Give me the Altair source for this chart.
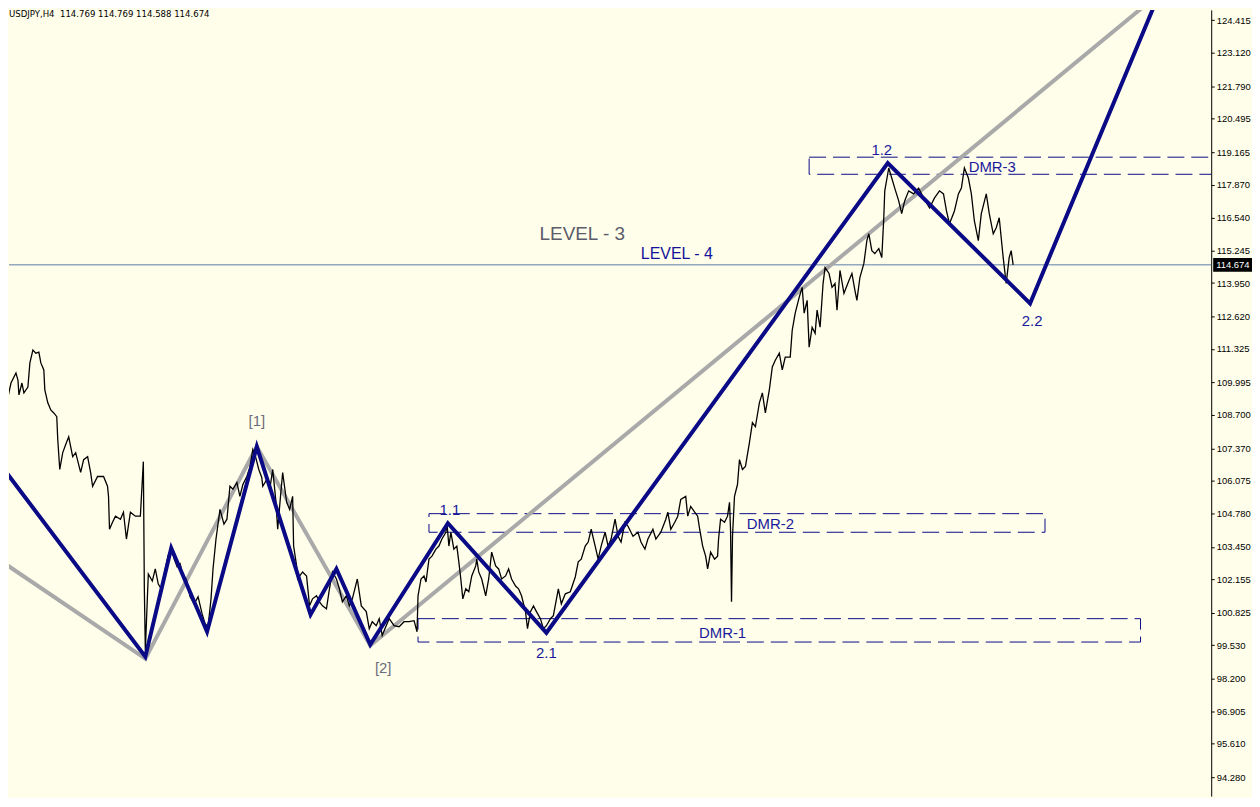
import altair as alt
import pandas as pd

# ---- data (bar index, price) ----
price_path = [
    (0, 109.97), (4, 109.30), (7, 109.42), (10, 109.97), (15, 110.37), (17, 110.09), (18, 109.50),
    (21, 109.97), (23, 109.58), (27, 109.81), (29, 110.77), (32, 111.28), (35, 111.16), (38, 111.20),
    (40, 110.77), (43, 110.49), (44, 109.70), (47, 109.18), (50, 108.90), (53, 108.78), (56, 108.63),
    (57, 107.72), (59, 106.53), (62, 107.20), (65, 107.52), (68, 107.83), (72, 107.04), (75, 107.20),
    (80, 106.41), (83, 106.92), (87, 107.04), (90, 106.41), (92, 105.86), (97, 106.25), (103, 106.25),
    (107, 105.86), (108, 105.46), (109, 104.15), (112, 104.43), (115, 104.67), (120, 104.55),
    (123, 104.83), (126, 103.76), (130, 104.83), (135, 104.67), (140, 104.67), (143, 106.84),
    (144, 101.78), (145, 99.32), (147, 101.38), (148, 102.37), (152, 102.09), (155, 102.57),
    (158, 101.97), (161, 101.78), (164, 102.37), (168, 103.12), (171, 103.36), (174, 102.96),
    (177, 102.65), (180, 102.77), (183, 102.25), (186, 102.17), (190, 101.46), (194, 101.18),
    (198, 101.46), (202, 100.79), (205, 100.39), (208, 100.27), (211, 101.38), (213, 102.57),
    (216, 103.76), (220, 104.94), (224, 104.35), (227, 104.55), (230, 105.86), (233, 105.74),
    (237, 106.01), (240, 105.46), (243, 105.93), (247, 106.25), (250, 106.61), (253, 107.32),
    (256, 107.00), (259, 106.53), (262, 106.21), (263, 105.86), (267, 106.13), (270, 105.74),
    (273, 106.53), (276, 105.34), (278, 104.15), (281, 105.54), (283, 106.41), (287, 105.22),
    (290, 104.94), (293, 105.46), (294, 103.48), (297, 102.69), (298, 102.17), (303, 102.45),
    (307, 102.29), (310, 101.10), (313, 101.38), (317, 101.50), (320, 101.26), (323, 101.10),
    (327, 100.98), (330, 101.78), (333, 102.45), (337, 102.17), (340, 101.78), (343, 101.26),
    (347, 101.50), (350, 101.10), (353, 101.38), (358, 102.17), (362, 101.10), (367, 100.87),
    (370, 100.19), (373, 100.47), (377, 100.31), (380, 100.59), (383, 99.92), (387, 100.31),
    (390, 100.59), (395, 100.31), (400, 100.27), (405, 100.47), (410, 100.47), (415, 100.51),
    (418, 100.07), (419, 101.50), (422, 102.17), (425, 102.29), (427, 102.05), (430, 102.96),
    (433, 103.08), (437, 103.36), (440, 103.48), (443, 103.76), (447, 104.03), (448, 104.43),
    (450, 103.48), (452, 104.03), (455, 103.36), (458, 103.48), (460, 102.85), (462, 102.17),
    (464, 101.38), (467, 101.78), (470, 101.66), (473, 102.29), (477, 102.69), (478, 102.96),
    (480, 102.45), (483, 102.17), (487, 101.50), (490, 102.17), (493, 103.24), (497, 102.69),
    (500, 102.57), (503, 102.17), (507, 102.29), (510, 102.57), (513, 102.17), (517, 101.89),
    (520, 101.78), (523, 101.50), (527, 100.87), (529, 100.19), (532, 100.87), (535, 101.10),
    (538, 100.87), (542, 100.59), (545, 100.19), (548, 100.31), (552, 100.59), (555, 100.71),
    (560, 101.78), (563, 101.18), (567, 101.58), (572, 101.66), (577, 102.25), (580, 102.85),
    (583, 102.96), (587, 103.48), (590, 103.64), (593, 104.15), (597, 103.48), (600, 102.96),
    (603, 103.48), (607, 104.03), (610, 103.48), (613, 103.76), (617, 104.55), (620, 103.87),
    (623, 103.64), (627, 104.43), (630, 104.27), (635, 103.87), (640, 104.03), (643, 103.64),
    (647, 103.36), (650, 103.76), (655, 104.15), (658, 103.76), (663, 104.03), (668, 104.55),
    (670, 104.83), (673, 104.15), (677, 104.43), (680, 104.67), (683, 105.34), (688, 105.46),
    (690, 104.67), (693, 105.06), (697, 104.83), (700, 104.67), (702, 104.15), (705, 103.48),
    (708, 103.08), (710, 102.57), (713, 103.24), (717, 102.96), (720, 103.08), (721, 103.76),
    (723, 104.55), (727, 104.43), (730, 104.67), (732, 105.22), (733, 104.15), (734, 101.26),
    (735, 103.87), (737, 105.46), (740, 105.93), (742, 106.92), (745, 106.53), (748, 106.65),
    (752, 107.60), (755, 108.39), (758, 108.23), (762, 109.18), (765, 109.58), (768, 108.78),
    (772, 109.70), (775, 110.61), (778, 110.88), (782, 111.16), (785, 110.49), (788, 111.00),
    (793, 111.00), (795, 112.07), (798, 112.75), (802, 113.38), (805, 113.78), (807, 112.75),
    (810, 113.26), (812, 111.40), (815, 112.19), (818, 111.95), (820, 112.87), (823, 112.19),
    (826, 113.93), (828, 114.57), (832, 114.33), (835, 113.78), (838, 113.93), (840, 112.87),
    (843, 114.45), (847, 113.54), (852, 114.05), (855, 114.33), (858, 113.66), (860, 113.26),
    (863, 114.17), (867, 114.73), (870, 115.64), (872, 115.91), (875, 115.24), (878, 115.12),
    (882, 115.32), (885, 114.96), (887, 116.55), (888, 117.62), (892, 118.53), (895, 118.13),
    (898, 117.73), (902, 117.22), (905, 116.71), (908, 117.22), (912, 117.62), (917, 117.50),
    (922, 117.73), (927, 117.34), (933, 116.94), (938, 117.34), (943, 117.62), (947, 117.50),
    (950, 116.82), (953, 116.31), (958, 116.82), (962, 117.50), (965, 117.73), (968, 118.53),
    (972, 118.13), (975, 117.50), (978, 116.43), (982, 115.64), (985, 116.71), (990, 117.50),
    (993, 116.71), (997, 115.91), (1000, 116.15), (1003, 116.55), (1007, 114.96), (1010, 113.93),
    (1013, 114.96), (1015, 115.24), (1017, 114.674),
]
price_bar = [p[0] for p in price_path]
price_close = [p[1] for p in price_path]

wave_bar = [-20, 145, 171, 207, 257, 311, 337, 371, 449, 548, 891, 1034, 1172]
wave_val = [107.74, 99.08, 103.40, 100.07, 107.44, 100.75, 102.57, 99.56, 104.39, 100.03, 118.73, 113.14, 126.25]

grey_bar = [-20, 145, 257, 371, 1190]
grey_val = [103.42, 99.00, 107.44, 99.52, 126.33]

zone_names = ["DMR-1", "DMR-2", "DMR-3"]
zone_start = [419, 430, 812]
zone_end = [1145, 1049, 1260]
zone_top = [100.59, 104.77, 118.96]
zone_bottom = [99.66, 104.03, 118.28]
zone_label_bar = [725, 773, 996]
zone_label_val = [100.03, 104.35, 118.57]

wave_labels = ["1.1", "2.1", "1.2", "2.2"]
wave_label_bar = [451, 548, 885, 1036]
wave_label_val = [104.90, 99.24, 119.24, 112.43]

grey_labels = ["[1]", "[2]"]
grey_label_bar = [257, 384]
grey_label_val = [108.47, 98.61]

level_names = ["LEVEL - 3", "LEVEL - 4"]
level_bar = [584, 679]
level_val = [115.91, 115.12]

last_price = 114.674
header = "USDJPY,H4\u00a0\u00a0114.769 114.769 114.588 114.674"

tick_values = [124.415, 123.120, 121.790, 120.495, 119.165, 117.870, 116.540, 115.245,
               113.950, 112.620, 111.325, 109.995, 108.700, 107.370, 106.075, 104.780,
               103.450, 102.155, 100.825, 99.530, 98.200, 96.905, 95.610, 94.280]

# ---- scales ----
NAVY = "#0a0a86"
FONT = "Liberation Sans"
xs = alt.Scale(domain=[8, 1216], nice=False, zero=False)
ys = alt.Scale(domain=[93.527, 124.823], nice=False, zero=False)

Y_axis = alt.Axis(orient="right", values=tick_values, format=".3f", title=None, grid=False,
                  domainColor="black", domainWidth=1, tickColor="black", tickSize=3,
                  labelPadding=2, labelFont=FONT, labelFontSize=9.5, labelColor="#000000",
                  labelOverlap=False, labelBound=False)


def X(f):
    return alt.X(f, type="quantitative", scale=xs, axis=None)


def Y(f):
    return alt.Y(f, type="quantitative", scale=ys, axis=Y_axis, title=None)


price_df = pd.DataFrame({"bar": price_bar, "v": price_close})
wave_df = pd.DataFrame({"bar": wave_bar, "v": wave_val})
grey_df = pd.DataFrame({"bar": grey_bar, "v": grey_val})
zone_df = pd.DataFrame({"name": zone_names, "start": zone_start, "end": zone_end,
                        "v": zone_top, "bottom": zone_bottom})
zlab_df = pd.DataFrame({"t": zone_names, "bar": zone_label_bar, "v": zone_label_val})
wlab_df = pd.DataFrame({"t": wave_labels, "bar": wave_label_bar, "v": wave_label_val})
glab_df = pd.DataFrame({"t": grey_labels, "bar": grey_label_bar, "v": grey_label_val})
l3_df = pd.DataFrame({"t": level_names[:1], "bar": level_bar[:1], "v": level_val[:1]})
l4_df = pd.DataFrame({"t": level_names[1:], "bar": level_bar[1:], "v": level_val[1:]})
level_df = pd.DataFrame({"v": [last_price], "t": [f"{last_price:.3f}"]})

price = alt.Chart(price_df).mark_line(color="black", strokeWidth=1.3, clip=True).encode(
    x=X("bar"), y=Y("v")
)

level4 = alt.Chart(level_df).mark_rule(color="#5f7aa6", strokeWidth=1).encode(y=Y("v"))

zones = alt.Chart(zone_df).mark_rect(filled=False, stroke=NAVY, strokeWidth=1,
                                     strokeDash=[17, 7], clip=True).encode(
    x=X("start"), x2="end", y=Y("v"), y2="bottom"
)

grey = alt.Chart(grey_df).mark_line(color="#a9a9a9", strokeWidth=4, clip=True).encode(
    x=X("bar"), y=Y("v")
)

wave = alt.Chart(wave_df).mark_line(color=NAVY, strokeWidth=4, clip=True).encode(
    x=X("bar"), y=Y("v")
)


def label_layer(df, size, color):
    return alt.Chart(df).mark_text(font=FONT, fontSize=size, color=color,
                                   baseline="middle", align="center").encode(
        x=X("bar"), y=Y("v"), text="t:N")


zone_text = label_layer(zlab_df, 15, "#1a1a9c")
wave_text = label_layer(wlab_df, 15, "#1a1a9c")
grey_text = label_layer(glab_df, 15, "#6c6c7c")
level3_text = label_layer(l3_df, 19, "#5c5c6a")
level4_text = label_layer(l4_df, 16, "#12129a")

header_text = alt.Chart(pd.DataFrame({"t": [header]})).mark_text(
    font="DejaVu Sans", fontSize=8.6, color="black", align="left", baseline="top").encode(
    x=alt.value(0), y=alt.value(0), text="t:N")

tag_rect = alt.Chart(level_df).mark_rect(color="black", height=14).encode(
    x=alt.value(1210), x2=alt.value(1249), y=Y("v")
)
tag_text = alt.Chart(level_df).mark_text(font=FONT, fontSize=9.5, color="white",
                                         align="left", baseline="middle").encode(
    x=alt.value(1213), y=Y("v"), text="t:N"
)

chart = alt.layer(
    level4, zones, grey, price, wave,
    zone_text, wave_text, grey_text, level3_text, level4_text, header_text,
    tag_rect, tag_text,
).properties(width=1208, height=790, padding=0, background="#fffeea").configure_view(
    stroke=None
).configure_axis(labelOverlap=False)

chart.save("out.html", embed_options={"renderer": "svg", "actions": False})
